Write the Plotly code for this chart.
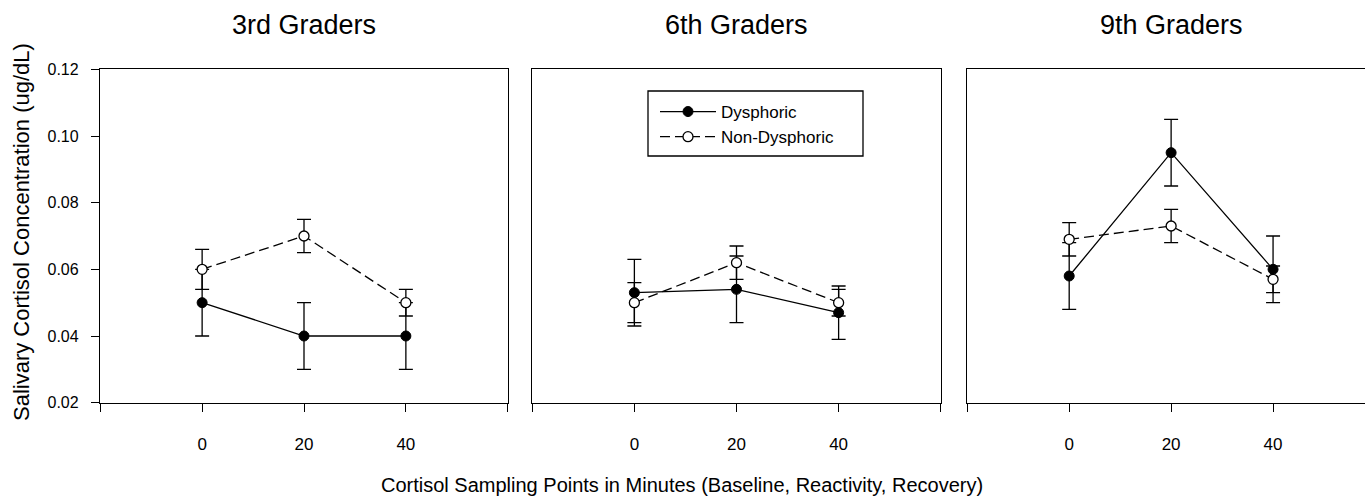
import plotly.graph_objects as go

# ---- data ----
minutes = [0, 20, 40]
panels = ["3rd Graders", "6th Graders", "9th Graders"]

dys_3 = [0.050, 0.040, 0.040]
dys_3_err = [0.010, 0.010, 0.010]
non_3 = [0.060, 0.070, 0.050]
non_3_err = [0.006, 0.005, 0.004]

dys_6 = [0.053, 0.054, 0.047]
dys_6_err = [0.010, 0.010, 0.008]
non_6 = [0.050, 0.062, 0.050]
non_6_err = [0.006, 0.005, 0.004]

dys_9 = [0.058, 0.095, 0.060]
dys_9_err = [0.010, 0.010, 0.010]
non_9 = [0.069, 0.073, 0.057]
non_9_err = [0.005, 0.005, 0.004]

x_ticks = [-20, 0, 20, 40, 60]
x_ticklabels = ["", "0", "20", "40", ""]
y_ticks = [0.02, 0.04, 0.06, 0.08, 0.10, 0.12]
y_ticklabels = ["0.02", "0.04", "0.06", "0.08", "0.10", "0.12"]

series = [(dys_3, dys_3_err, non_3, non_3_err),
          (dys_6, dys_6_err, non_6, non_6_err),
          (dys_9, dys_9_err, non_9, non_9_err)]

W, H = 1365, 498
FONT = "Liberation Sans, Arial, Helvetica, sans-serif"
LW = 1.3

fig = go.Figure()

for i, (d, de, n, ne) in enumerate(series):
    xa = "x" if i == 0 else f"x{i+1}"
    ya = "y" if i == 0 else f"y{i+1}"
    fig.add_trace(go.Scatter(
        x=minutes, y=d, xaxis=xa, yaxis=ya, mode="lines+markers",
        name="Dysphoric", showlegend=(i == 1),
        line=dict(color="black", width=LW),
        marker=dict(symbol="circle", size=10, color="black",
                    line=dict(color="black", width=1)),
        error_y=dict(type="data", array=de, visible=True, color="black",
                     thickness=LW, width=7),
    ))
    fig.add_trace(go.Scatter(
        x=minutes, y=n, xaxis=xa, yaxis=ya, mode="lines+markers",
        name="Non-Dysphoric", showlegend=(i == 1),
        line=dict(color="black", width=LW, dash="10px,5px"),
        marker=dict(symbol="circle", size=10, color="white",
                    line=dict(color="black", width=LW)),
        error_y=dict(type="data", array=ne, visible=True, color="black",
                     thickness=LW, width=7),
    ))

px = lambda v: v / W
py = lambda v: 1 - v / H
top = py(69)
bot = py(403)
domains = [(px(100), px(508)), (px(532), px(941)), (px(967), 1.0)]
xranges = [[-20.05, 60.05], [-20.05, 60.05], [-20.05, -20 + (1365 - 967) / 5.1]]

common_x = dict(showline=True, linecolor="black", linewidth=LW, ticks="outside",
                ticklen=8, tickwidth=LW, tickcolor="black", showgrid=False,
                zeroline=False, tickvals=x_ticks, ticktext=x_ticklabels,
                tickfont=dict(family=FONT, size=17, color="black"),
                ticklabelstandoff=17, fixedrange=True, automargin=False)
layout = {}
for i in range(3):
    key = "xaxis" if i == 0 else f"xaxis{i+1}"
    ykey = "yaxis" if i == 0 else f"yaxis{i+1}"
    xa = dict(common_x)
    xa.update(domain=list(domains[i]), range=xranges[i], mirror=True,
              anchor="y" if i == 0 else f"y{i+1}")
    layout[key] = xa
    ya = dict(showline=True, linecolor="black", linewidth=LW, showgrid=False,
              zeroline=False, range=[0.0199, 0.1201], domain=[bot, top],
              anchor="x" if i == 0 else f"x{i+1}", mirror=(i < 2),
              fixedrange=True, automargin=False)
    if i == 0:
        ya.update(ticks="outside", ticklen=8, tickwidth=LW, tickcolor="black",
                  tickvals=y_ticks, ticktext=y_ticklabels,
                  tickfont=dict(family=FONT, size=16, color="black"),
                  ticklabelstandoff=9)
    else:
        ya.update(ticks="", showticklabels=False)
    layout[ykey] = ya

annotations = []
for i, t in enumerate(panels):
    annotations.append(dict(text=t, x=20, xref="x" if i == 0 else f"x{i+1}",
                            y=py(25), yref="paper", showarrow=False,
                            xanchor="center", yanchor="middle",
                            font=dict(family=FONT, size=27, color="black")))
annotations.append(dict(text="Salivary Cortisol Concentration (ug/dL)",
                        x=px(21), y=py(232), xref="paper", yref="paper",
                        textangle=-90, showarrow=False, xanchor="center",
                        yanchor="middle",
                        font=dict(family=FONT, size=22, color="black")))
annotations.append(dict(text="Cortisol Sampling Points in Minutes (Baseline, Reactivity, Recovery)",
                        x=px(682), y=py(485), xref="paper", yref="paper",
                        showarrow=False, xanchor="center", yanchor="middle",
                        font=dict(family=FONT, size=20, color="black")))

# legend frame
shapes = [dict(type="rect", xref="paper", yref="paper",
               x0=px(648), x1=px(863), y0=py(156), y1=py(91),
               line=dict(color="black", width=LW), fillcolor="rgba(0,0,0,0)")]

fig.update_layout(
    template="none",
    width=W, height=H,
    margin=dict(l=0, r=0, t=0, b=0, pad=0, autoexpand=False),
    paper_bgcolor="white", plot_bgcolor="white",
    showlegend=True,
    legend=dict(x=px(655), y=py(94), xanchor="left", yanchor="top",
                borderwidth=0, bgcolor="rgba(0,0,0,0)",
                font=dict(family=FONT, size=17, color="black"),
                itemwidth=56, tracegroupgap=0),
    annotations=annotations,
    shapes=shapes,
    **layout,
)

fig.write_html("out.html", config={"displayModeBar": False})
